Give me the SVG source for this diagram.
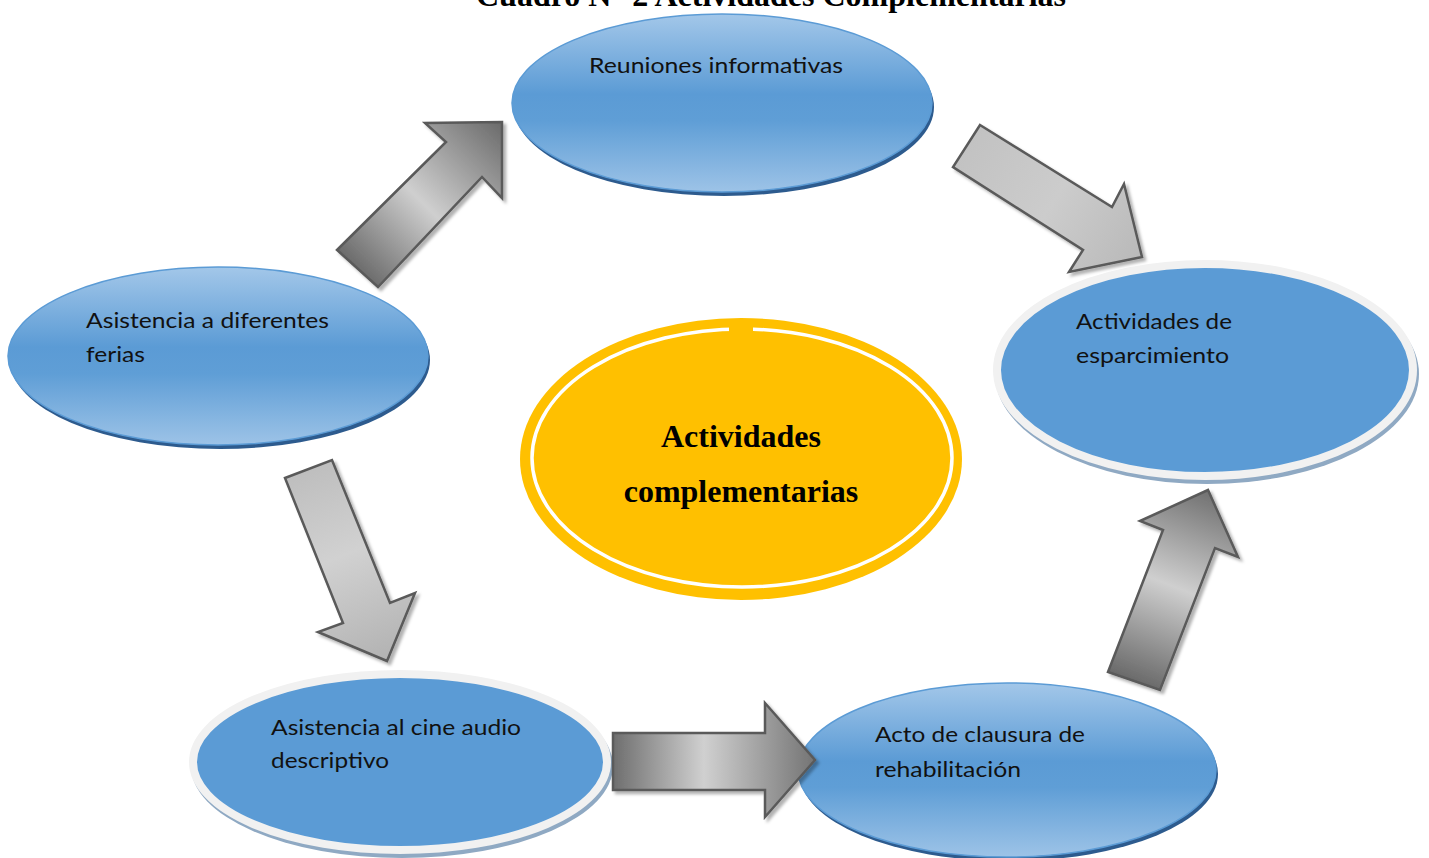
<svg xmlns="http://www.w3.org/2000/svg" width="1429" height="858" viewBox="0 0 1429 858">
<defs>
<style>
.lbl{font-family:Lato,"Liberation Sans","DejaVu Sans",sans-serif;font-size:22px;fill:#111}
.title{font-family:"Liberation Serif","Times New Roman",serif;font-weight:bold;font-size:32px;fill:#000}
.ctr{font-family:"Liberation Serif","Times New Roman",serif;font-weight:bold;font-size:32px;fill:#000}
.arrow{stroke:#5a5a5a;stroke-width:2.5;stroke-linejoin:miter;filter:url(#shadow)}
.gshadow{fill:#2d5b8e}
.gmain{fill:url(#blueGrad);stroke:#5b9bd5;stroke-width:1.5}
.rshadow{fill:#8fa9c3}
.rmain{fill:#5b9bd5;stroke:#f1f1f1;stroke-width:8}
</style>
<linearGradient id="blueGrad" x1="0" y1="0" x2="0" y2="1">
<stop offset="0" stop-color="#a3c7e9"/>
<stop offset="0.45" stop-color="#5b9bd5"/>
<stop offset="0.6" stop-color="#5f9ed6"/>
<stop offset="1" stop-color="#9dc3e7"/>
</linearGradient>
<linearGradient id="g1" gradientUnits="userSpaceOnUse" x1="357" y1="268" x2="502" y2="122">
<stop offset="0" stop-color="#6c6c6c"/><stop offset="0.45" stop-color="#cfcfcf"/><stop offset="1" stop-color="#6a6a6a"/>
</linearGradient>
<linearGradient id="g2" gradientUnits="userSpaceOnUse" x1="966" y1="146" x2="1142" y2="257">
<stop offset="0" stop-color="#c2c2c2"/><stop offset="0.5" stop-color="#cccccc"/><stop offset="1" stop-color="#b9b9b9"/>
</linearGradient>
<linearGradient id="g3" gradientUnits="userSpaceOnUse" x1="308" y1="469" x2="387" y2="661">
<stop offset="0" stop-color="#bebebe"/><stop offset="0.45" stop-color="#d1d1d1"/><stop offset="1" stop-color="#b2b2b2"/>
</linearGradient>
<linearGradient id="g4" gradientUnits="userSpaceOnUse" x1="613" y1="760" x2="815" y2="760">
<stop offset="0" stop-color="#6e6e6e"/><stop offset="0.45" stop-color="#d0d0d0"/><stop offset="1" stop-color="#747474"/>
</linearGradient>
<linearGradient id="g5" gradientUnits="userSpaceOnUse" x1="1134" y1="681" x2="1208" y2="490">
<stop offset="0" stop-color="#6a6a6a"/><stop offset="0.5" stop-color="#cfcfcf"/><stop offset="1" stop-color="#707070"/>
</linearGradient>
<filter id="shadow" x="-20%" y="-20%" width="140%" height="140%">
<feDropShadow dx="3" dy="3" stdDeviation="1.5" flood-color="#000" flood-opacity="0.3"/>
</filter>
</defs>
<rect width="1429" height="858" fill="#fff"/>
<text class="title" x="771" y="6" text-anchor="middle">Cuadro N° 2 Actividades Complementarias</text>

<g id="node-reuniones">
<ellipse class="gshadow" cx="724" cy="107" rx="210" ry="89"/>
<ellipse class="gmain" cx="722" cy="103" rx="210" ry="89"/>
<text class="lbl" x="589" y="73" textLength="254" lengthAdjust="spacingAndGlyphs">Reuniones informativas</text>
</g>

<g id="node-ferias">
<ellipse class="gshadow" cx="220" cy="360" rx="210" ry="89"/>
<ellipse class="gmain" cx="218" cy="356" rx="210" ry="89"/>
<text class="lbl" x="86" y="328" textLength="243" lengthAdjust="spacingAndGlyphs">Asistencia a diferentes</text>
<text class="lbl" x="86" y="362" textLength="59" lengthAdjust="spacingAndGlyphs">ferias</text>
</g>

<g id="node-esparcimiento">
<ellipse class="rshadow" cx="1207" cy="374" rx="212" ry="110"/>
<ellipse class="rmain" cx="1205" cy="370" rx="208" ry="106"/>
<text class="lbl" x="1076" y="329" textLength="156" lengthAdjust="spacingAndGlyphs">Actividades de</text>
<text class="lbl" x="1076" y="363" textLength="153" lengthAdjust="spacingAndGlyphs">esparcimiento</text>
</g>

<g id="node-cine">
<ellipse class="rshadow" cx="402" cy="766" rx="211" ry="92"/>
<ellipse class="rmain" cx="400" cy="762" rx="207" ry="88"/>
<text class="lbl" x="271" y="735" textLength="250" lengthAdjust="spacingAndGlyphs">Asistencia al cine audio</text>
<text class="lbl" x="271" y="768" textLength="118" lengthAdjust="spacingAndGlyphs">descriptivo</text>
</g>

<g id="node-clausura">
<ellipse class="gshadow" cx="1009" cy="774" rx="209" ry="87"/>
<ellipse class="gmain" cx="1007" cy="770" rx="209" ry="87"/>
<text class="lbl" x="875" y="742" textLength="210" lengthAdjust="spacingAndGlyphs">Acto de clausura de</text>
<text class="lbl" x="875" y="777" textLength="146" lengthAdjust="spacingAndGlyphs">rehabilitación</text>
</g>

<g id="node-center">
<ellipse cx="741" cy="459" rx="221" ry="141" fill="#ffc000"/>
<ellipse cx="742" cy="458" rx="210" ry="129" fill="none" stroke="#fff" stroke-width="3.5"/>
<rect x="729" y="324" width="24" height="9" fill="#ffc000"/>
<text class="ctr" x="741" y="447" text-anchor="middle">Actividades</text>
<text class="ctr" x="741" y="502" text-anchor="middle">complementarias</text>
</g>

<g id="connectors">
<polygon class="arrow" fill="url(#g1)" points="337,250 446,142 425,123 502,122 502,198 482,177 378,287"/>
<polygon class="arrow" fill="url(#g2)" points="980,125 1112,207 1124,184 1142,257 1069,272 1083,250 953,167"/>
<polygon class="arrow" fill="url(#g3)" points="285,478 332,460 390,603 415,593 387,661 318,632 343,623"/>
<polygon class="arrow" fill="url(#g4)" points="613,733 765,733 765,703 815,760 765,817 765,790 613,790"/>
<polygon class="arrow" fill="url(#g5)" points="1108,672 1163,530 1140,521 1208,490 1238,557 1215,548 1160,690"/>
</g>
</svg>
